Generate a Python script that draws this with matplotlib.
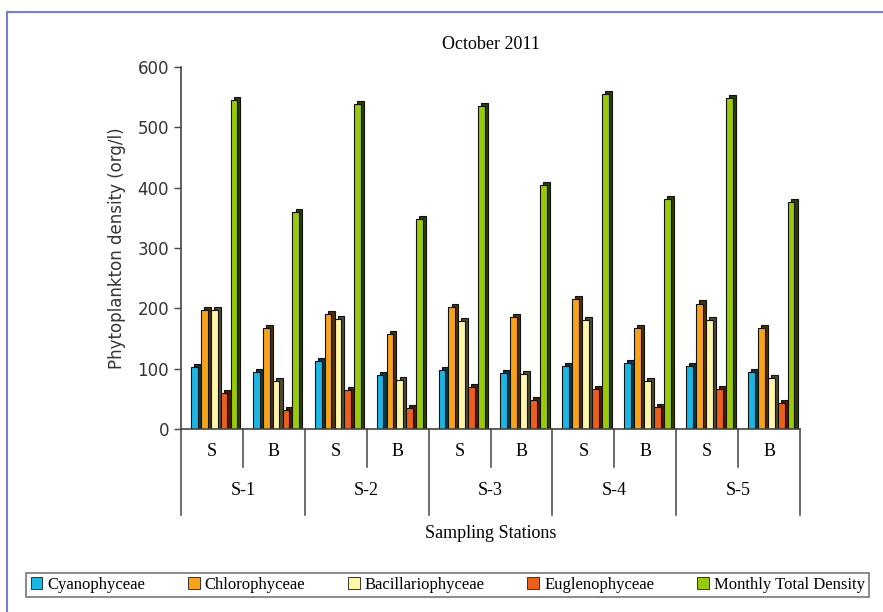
import numpy as np
import matplotlib.pyplot as plt
from matplotlib.lines import Line2D
from matplotlib.patches import Patch
from matplotlib.colors import to_rgb

# Stations and sampling levels (S = surface, B = bottom)
stations = ['S-1', 'S-2', 'S-3', 'S-4', 'S-5']
levels = ['S', 'B']

series_names = ['Cyanophyceae', 'Chlorophyceae', 'Bacillariophyceae',
                'Euglenophyceae', 'Monthly Total Density']

# values per group: S-1 S, S-1 B, S-2 S, S-2 B, ... S-5 B
cyanophyceae = [102, 94, 112, 90, 97, 93, 104, 110, 104, 95]
chlorophyceae = [198, 167, 190, 157, 202, 186, 215, 167, 208, 167]
bacillariophyceae = [197, 79, 183, 82, 179, 91, 180, 79, 181, 84]
euglenophyceae = [60, 31, 64, 34, 70, 48, 67, 37, 66, 43]
total_density = [545, 360, 538, 348, 536, 404, 555, 381, 548, 377]

series = [cyanophyceae, chlorophyceae, bacillariophyceae,
          euglenophyceae, total_density]
colors = ['#1cb6e4', '#f7a21b', '#fff6a8', '#ea5f1c', '#99c90a']


def darker(c, f=0.3):
    r, g, b = to_rgb(c)
    return (r * f, g * f, b * f)


fig = plt.figure(figsize=(8.83, 6.12), dpi=100)
fig.patch.set_facecolor('white')

# thin frame lines along top and left edge
fig.add_artist(Line2D([7 / 883, 1.0], [1 - 12 / 612] * 2,
                      color='#7b7bd8', lw=1.5, transform=fig.transFigure))
fig.add_artist(Line2D([7 / 883] * 2, [0, 1 - 12 / 612],
                      color='#7b7bd8', lw=1.5, transform=fig.transFigure))

ax = fig.add_axes([181 / 883, 1 - 429 / 612, 619 / 883, 362 / 612])

n_groups = len(cyanophyceae)
groups = np.arange(n_groups)
slot = 0.16
face_w = 0.11
depth_x = 0.05
depth_y = 5

for i, (vals, c) in enumerate(zip(series, colors)):
    x0 = groups + 0.16 + i * slot
    # side/top face for the pseudo-3D look
    ax.bar(x0 + depth_x, np.array(vals) + depth_y, width=face_w, align='edge',
           color=darker(c), edgecolor='#111111', linewidth=0.8, zorder=2 + i)
    ax.bar(x0, vals, width=face_w, align='edge', color=c,
           edgecolor='#111111', linewidth=0.8, zorder=2 + i)

ax.set_xlim(0, n_groups)
ax.set_ylim(0, 600)
ax.set_yticks(np.arange(0, 601, 100))
ax.tick_params(axis='y', labelsize=12, labelcolor='#333333', length=5,
               color='#444444', width=1)
ax.set_xticks([])
for side in ['top', 'right', 'bottom']:
    ax.spines[side].set_visible(False)
ax.spines['left'].set_color('#444444')
ax.spines['left'].set_linewidth(1.2)
ax.axhline(0, color='#444444', lw=1.2, zorder=10, clip_on=False)

ax.set_ylabel('Phytoplankton density (org/l)', fontsize=12,
              color='#333333', labelpad=8)

serif = 'Liberation Serif'
ax.set_title('October 2011', fontsize=13, family=serif, pad=13)

# two-level category axis below the plot
trans = ax.get_xaxis_transform()
for b in range(n_groups + 1):
    y_end = -0.2376 if b % 2 == 0 else -0.105
    ax.plot([b, b], [0, y_end], color='#444444', lw=1.1,
            transform=trans, clip_on=False)
for g in groups:
    ax.text(g + 0.5, -0.063, levels[g % 2], transform=trans, ha='center',
            va='center', fontsize=13, family=serif)
for s, name in enumerate(stations):
    ax.text(2 * s + 1, -0.171, name, transform=trans, ha='center',
            va='center', fontsize=13, family=serif)
ax.text(n_groups / 2, -0.29, 'Sampling Stations', transform=trans,
        ha='center', va='center', fontsize=13, family=serif)

handles = [Patch(facecolor=c, edgecolor='#333333', linewidth=0.7)
           for c in colors]
leg = fig.legend(handles, series_names, loc='center',
                 bbox_to_anchor=(18 / 883, 1 - 598 / 612, 859 / 883, 26 / 612),
                 mode='expand', ncol=5, frameon=True, fancybox=False,
                 handlelength=0.7, handleheight=0.7, handletextpad=0.3,
                 columnspacing=0.6, borderpad=0.25,
                 prop={'family': serif, 'size': 12})
leg.get_frame().set_edgecolor('#555555')
leg.get_frame().set_linewidth(1.2)

fig.savefig('out.png', dpi=100, facecolor=fig.get_facecolor())
